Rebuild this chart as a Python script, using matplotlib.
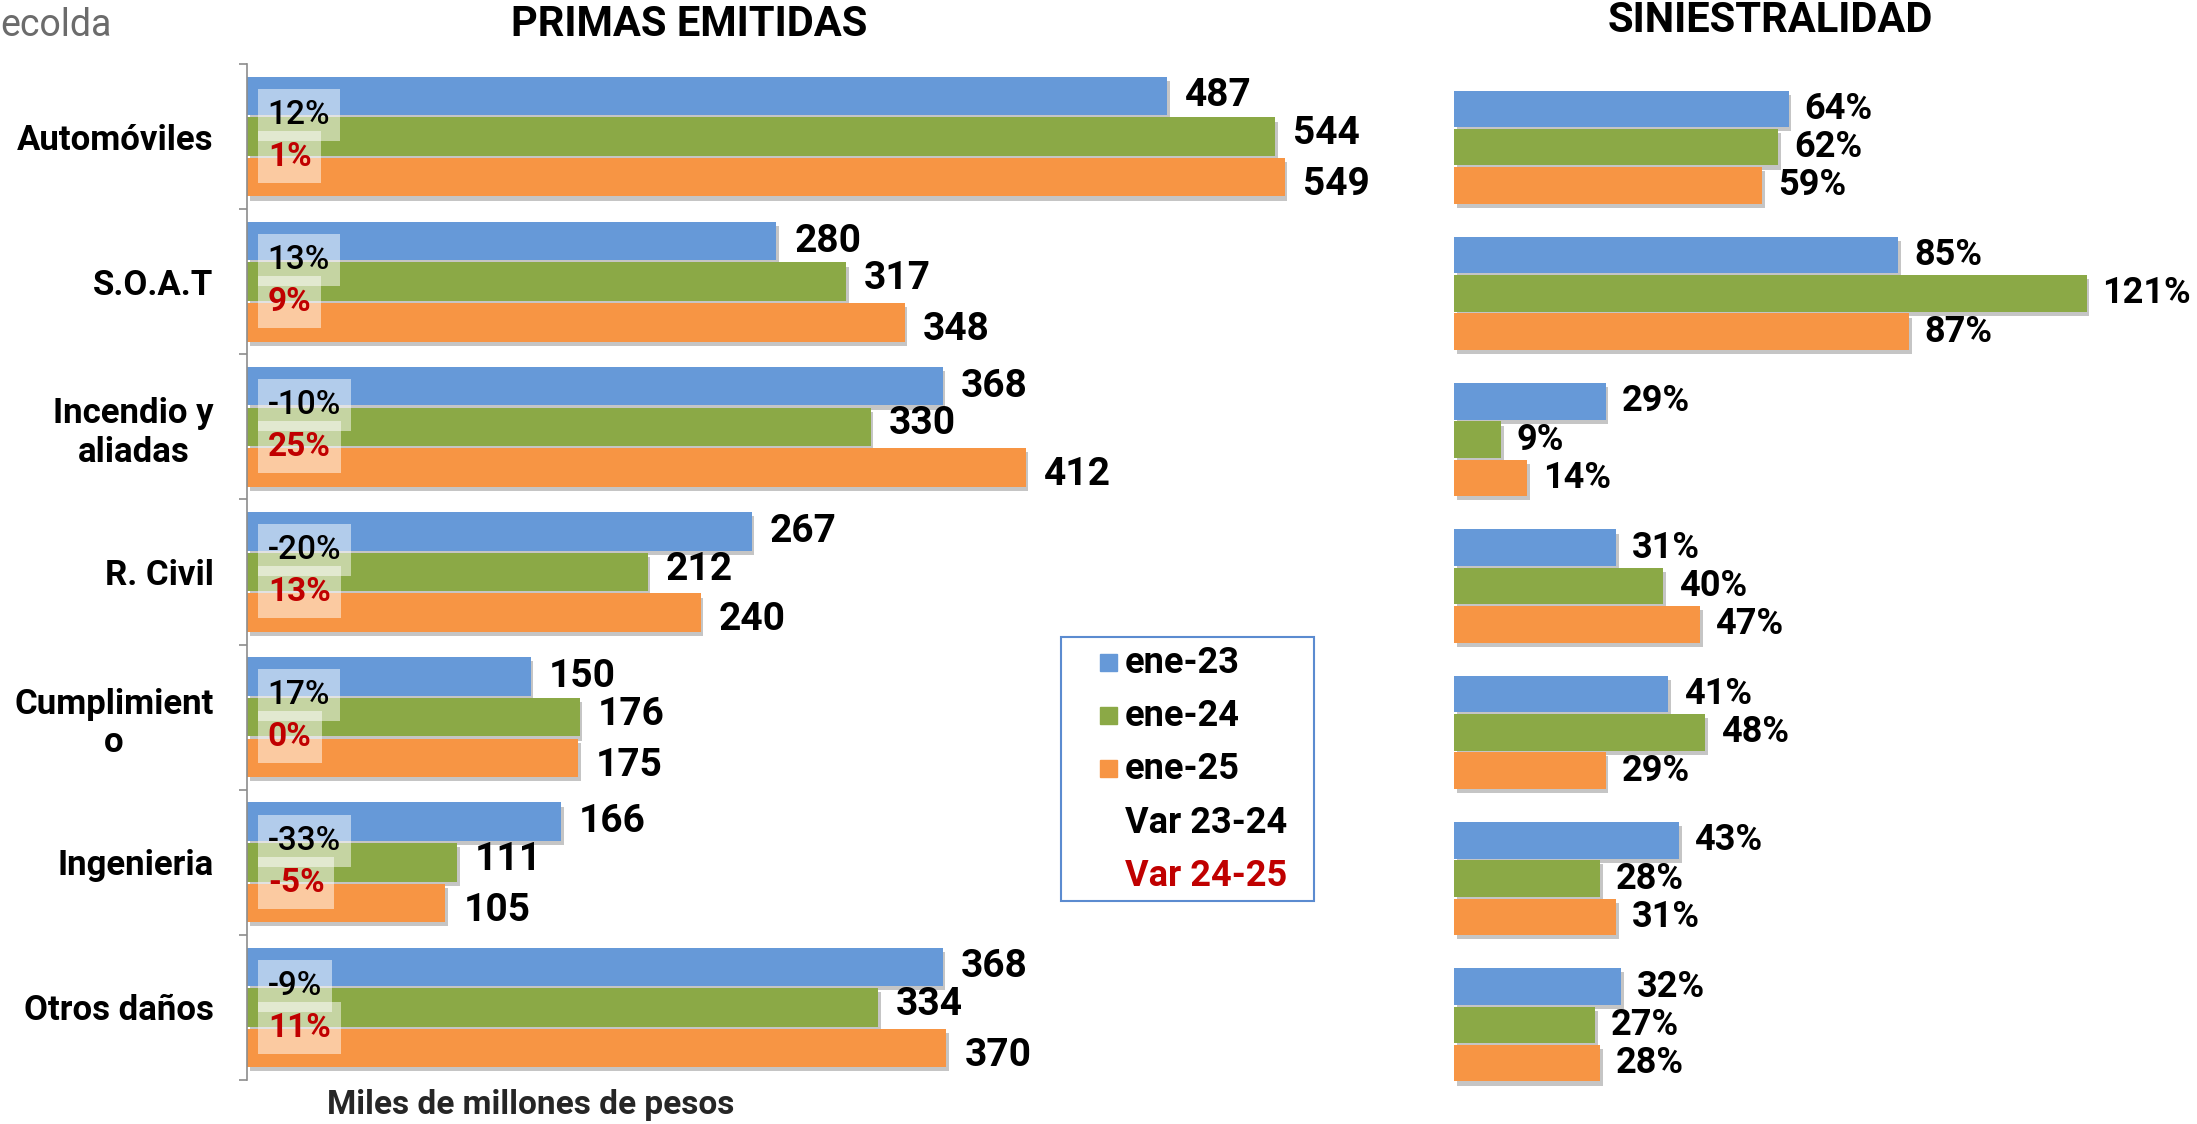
import matplotlib
matplotlib.use("Agg")
import matplotlib.pyplot as plt
import matplotlib.patheffects as pe
from matplotlib.patches import Rectangle
import numpy as np

categories = ["Automóviles", "S.O.A.T", "Incendio y\naliadas", "R. Civil",
              "Cumplimient\no", "Ingenieria", "Otros daños"]
series = ["ene-23", "ene-24", "ene-25"]
primas_23 = [487, 280, 368, 267, 150, 166, 368]
primas_24 = [544, 317, 330, 212, 176, 111, 334]
primas_25 = [549, 348, 412, 240, 175, 105, 370]
var_23_24 = [12, 13, -10, -20, 17, -33, -9]
var_24_25 = [1, 9, 25, 13, 0, -5, 11]
sini_23 = [64, 85, 29, 31, 41, 43, 32]
sini_24 = [62, 121, 9, 40, 48, 28, 27]
sini_25 = [59, 87, 14, 47, 29, 31, 28]

colors = ["#6699D8", "#8BA946", "#F79544"]
red = "#C00000"
FONT = ["Roboto", "DejaVu Sans"]

W, H = 2197, 1124
fig = plt.figure(figsize=(W / 100, H / 100), dpi=100)

# left panel: primas emitidas
ax1 = fig.add_axes([247 / W, 1 - 1080 / H, 1134 / W, 1016 / H])
# right panel: siniestralidad
ax2 = fig.add_axes([1454 / W, 1 - 1098 / H, 732 / W, 1024 / H])

n = len(categories)
y = np.arange(n)
shadow = [pe.SimplePatchShadow(offset=(2, -3), shadow_rgbFace="#7f7f7f", alpha=0.45),
          pe.Normal()]


def draw_bars(ax, data, step, height, gap, fmt, dys, size):
    for k, (vals, c) in enumerate(zip(data, colors)):
        yy = y + (k - 1) * step
        bars = ax.barh(yy, vals, height=height, color=c, zorder=2)
        for p in bars:
            p.set_path_effects(shadow)
        for v, yc in zip(vals, yy):
            ax.text(v + gap, yc + dys[k], fmt.format(v), ha="left", va="center",
                    fontsize=size, fontweight="bold", family=FONT, color="black")


draw_bars(ax1, [primas_23, primas_24, primas_25], 0.28, 0.265, 9.5, "{}",
          [0, -0.02, 0.05], 28)
draw_bars(ax2, [sini_23, sini_24, sini_25], 0.262, 0.25, 3.0, "{}%",
          [0, 0, 0], 26)

# variation labels over the start of the bars
step = 0.28
for i in range(n):
    ax1.text(11, y[i] - step / 2 - 0.01, f"{var_23_24[i]}%", ha="left", va="center",
             fontsize=24, fontweight="medium", family=FONT, color="black", zorder=4,
             bbox=dict(boxstyle="square,pad=0.3", fc="white", ec="none", alpha=0.5))
    ax1.text(11, y[i] + step / 2, f"{var_24_25[i]}%", ha="left", va="center",
             fontsize=24, fontweight="bold", family=FONT, color=red, zorder=5,
             bbox=dict(boxstyle="square,pad=0.3", fc="white", ec="none", alpha=0.5))

for ax, xmax in ((ax1, 600), (ax2, 140)):
    ax.set_xlim(0, xmax)
    ax.set_ylim(n - 0.5, -0.5)
    for s in ("top", "right", "bottom"):
        ax.spines[s].set_visible(False)
    ax.set_xticks([])
    ax.set_facecolor("none")

ax1.spines["left"].set_color("#8c8c8c")
ax1.spines["left"].set_linewidth(1.2)
ax1.set_yticks(y, labels=categories)
ax1.set_yticks(np.arange(n + 1) - 0.5, minor=True)
ax1.tick_params(axis="y", which="major", length=0, pad=24)
ax1.tick_params(axis="y", which="minor", length=6, width=1.2, color="#8c8c8c")
for lab in ax1.get_yticklabels():
    lab.set_fontsize(25)
    lab.set_fontweight("bold")
    lab.set_family(FONT)
    lab.set_multialignment("center")

ax2.spines["left"].set_visible(False)
ax2.set_yticks([])

# titles and notes
fig.text(689 / W, 1 - 25 / H, "PRIMAS EMITIDAS", ha="center", va="center",
         fontsize=30, fontweight="bold", family=FONT)
fig.text(1770 / W, 1 - 21 / H, "SINIESTRALIDAD", ha="center", va="center",
         fontsize=30, fontweight="bold", family=FONT)
fig.text(531 / W, 1 - 1105 / H, "Miles de millones de pesos", ha="center", va="center",
         fontsize=24, fontweight="bold", family=FONT, color="#262626")
fig.text(0, 1 - 25 / H, "ecolda", ha="left", va="center", fontsize=27,
         family=FONT, color="#6b6b6b")

# legend box drawn by hand
fig.patches.append(Rectangle((1061 / W, 1 - 901 / H), 253 / W, 264 / H,
                             transform=fig.transFigure, fill=False,
                             ec="#5B8BD0", lw=1.5))
legend_labels = series + ["Var 23-24", "Var 24-25"]
legend_colors = colors + [None, None]
for i, (lab, c) in enumerate(zip(legend_labels, legend_colors)):
    yc = 663 + i * 53.2
    if c is not None:
        fig.patches.append(Rectangle((1100 / W, 1 - (yc + 8) / H), 17 / W, 17 / H,
                                     transform=fig.transFigure, color=c))
    fig.text(1125 / W, 1 - yc / H, lab, ha="left", va="center", fontsize=26,
             fontweight="bold", family=FONT, color=red if i == 4 else "black")

fig.savefig("out.png", dpi=100)
